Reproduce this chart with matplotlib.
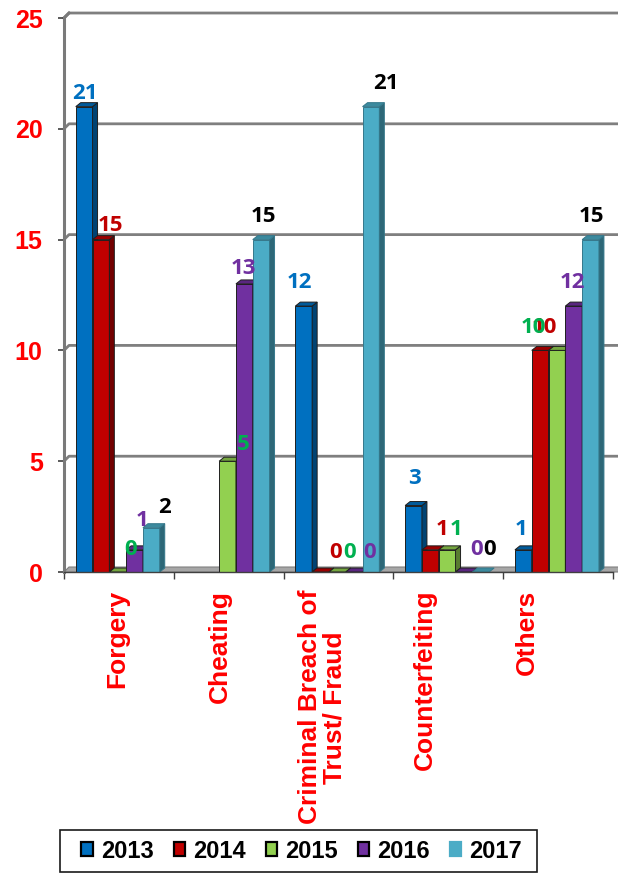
import matplotlib
matplotlib.use("Agg")
import matplotlib.pyplot as plt
import matplotlib.colors as mcolors
from matplotlib.patches import Polygon, Patch, Rectangle

# ---- data -------------------------------------------------------------
categories = ["Forgery", "Cheating", "Criminal Breach of\nTrust/ Fraud",
              "Counterfeiting", "Others"]
years = ["2013", "2014", "2015", "2016", "2017"]
v2013 = [21, None, 12, 3, 1]
v2014 = [15, None, 0, 1, 10]
v2015 = [0, 5, 0, 1, 10]
v2016 = [1, 13, 0, 0, 12]
v2017 = [2, 15, 21, 0, 15]
y_ticks = [0, 5, 10, 15, 20, 25]

series = [v2013, v2014, v2015, v2016, v2017]

# ---- style ------------------------------------------------------------
bar_colors = ["#0070C0", "#C00000", "#92D050", "#7030A0", "#4BACC6"]
label_colors = ["#0070C0", "#C00000", "#00B050", "#7030A0", "#000000"]
RED = "#FF0000"

# value-label nudges in pixels: horizontal shift and height of label centre
# above the bar top (rows = years, columns = categories)
label_dx = [[1, 0, -4.7, 0.5, -2.3],
            [9, 0, 15.5, 11.7, 4],
            [13, 15.5, 12.7, 9, -24],
            [7.5, -1.3, 15, 13, -1.7],
            [13, 2, 15, 9.3, 0.5]]
label_dy = [[16, 0, 26, 30, 23],
            [17, 0, 22, 23, 25],
            [25, 19, 22, 23, 25],
            [32, 18, 22, 25, 26],
            [23, 26, 26, 25, 26]]

GROUP_START = 0.107   # first bar's left edge, from category's left boundary
BAR_W = 0.153
DEPTH_X, DEPTH_Y = 0.0455, 0.18      # 3-D extrusion of the bars
WALL_X, WALL_Y = 0.0455, 0.225       # offset of the back wall / floor


def shade(color, k):
    r, g, b = mcolors.to_rgb(color)
    return (r * k, g * k, b * k)


W, H = 618, 873
fig = plt.figure(figsize=(W / 100, H / 100), dpi=100)
fig.patch.set_facecolor("white")
ax = fig.add_axes([64 / W, 301 / H, 549 / W, 554 / H])
ax.set_xlim(-0.5, 4.5)
ax.set_ylim(0, 25)
ax.set_facecolor("none")

# back-wall gridlines with the short slanted left-wall segment
for t in y_ticks[1:]:
    ax.plot([-0.5, -0.5 + WALL_X, 4.7], [t, t + WALL_Y, t + WALL_Y],
            color="#7f7f7f", lw=2.0, solid_capstyle="butt",
            clip_on=False, zorder=0.5)

# floor
ax.add_patch(Polygon([(-0.5, 0), (-0.5 + WALL_X, WALL_Y), (4.7, WALL_Y), (4.7, 0)],
                     closed=True, facecolor="#a6a6a6", edgecolor="#7f7f7f",
                     lw=0.8, clip_on=False, zorder=0.6))

# bars with side and top faces
for j, (vals, col) in enumerate(zip(series, bar_colors)):
    z = 2 + j * 0.1
    edge = "#1f1f1f" if j < 4 else shade(col, 0.7)
    for i, v in enumerate(vals):
        if v is None:
            continue
        x = i - 0.5 + GROUP_START + j * BAR_W
        if v > 0:
            ax.bar(x, v, width=BAR_W, align="edge", color=col,
                   edgecolor=edge, linewidth=0.7, zorder=z)
            ax.add_patch(Polygon([(x + BAR_W, 0), (x + BAR_W + DEPTH_X, DEPTH_Y),
                                  (x + BAR_W + DEPTH_X, v + DEPTH_Y), (x + BAR_W, v)],
                                 closed=True, facecolor=shade(col, 0.6),
                                 edgecolor=edge, lw=0.7, zorder=z))
        ax.add_patch(Polygon([(x, v), (x + DEPTH_X, v + DEPTH_Y),
                              (x + BAR_W + DEPTH_X, v + DEPTH_Y), (x + BAR_W, v)],
                             closed=True, facecolor=shade(col, 0.8),
                             edgecolor=edge, lw=0.7, zorder=z + 0.01))
        ax.annotate(str(v), xy=(x + BAR_W / 2, v),
                    xytext=(label_dx[j][i], label_dy[j][i] - 8),
                    textcoords="offset pixels", ha="center", va="baseline",
                    fontsize=16, fontweight="bold", family="Open Sans",
                    color=label_colors[j], zorder=10, annotation_clip=False)

# axes lines and ticks
for s in ("top", "right"):
    ax.spines[s].set_visible(False)
ax.spines["left"].set_color("#7a7a7a")
ax.spines["left"].set_linewidth(2.2)
ax.spines["bottom"].set_color("#404040")
ax.spines["bottom"].set_linewidth(1.0)
ax.spines["bottom"].set_zorder(5)
ax.plot([-0.5, -0.5 + WALL_X], [25, 25 + WALL_Y], color="#7a7a7a", lw=2.2,
        clip_on=False, zorder=1)

ax.set_yticks(y_ticks)
ax.set_yticklabels([str(t) for t in y_ticks], color=RED, fontsize=18,
                   fontweight="bold", family="Liberation Sans")
ax.tick_params(axis="y", length=4.3, width=1.2, color="#404040", pad=11)

ax.set_xticks([i - 0.5 for i in range(len(categories) + 1)])
ax.set_xticklabels([])
ax.tick_params(axis="x", length=5, width=1.0, color="#404040")

# category labels, drifting left with the perspective of the chart floor
for i, name in enumerate(categories):
    ax.annotate(name, xy=(i - 0.015 - 0.067 * i, 0), xytext=(0, -18),
                textcoords="offset pixels", rotation=90, ha="center", va="top",
                multialignment="center", linespacing=1.05,
                fontsize=19, fontweight="bold", family="Liberation Sans",
                color=RED, annotation_clip=False)

# legend: frame drawn as a separate box, entries centred inside it
fig.add_artist(Rectangle((60 / W, 1 - 872 / H), 477 / W, 42 / H,
                         transform=fig.transFigure, facecolor="white",
                         edgecolor="#1a1a1a", lw=1.2, zorder=1))
handles = [Patch(facecolor=c, edgecolor=("black" if k < 4 else c), linewidth=1.6)
           for k, c in enumerate(bar_colors)]
leg = fig.legend(handles, years, loc="center",
                 bbox_to_anchor=(301.5 / W, 1 - 851 / H), ncol=5,
                 prop={"family": "Liberation Sans", "weight": "bold", "size": 17},
                 handlelength=0.5, handleheight=0.5, handletextpad=0.32,
                 columnspacing=0.85, borderpad=0, borderaxespad=0,
                 frameon=False)
leg.set_zorder(2)

fig.savefig("out.png", dpi=100, facecolor="white")
